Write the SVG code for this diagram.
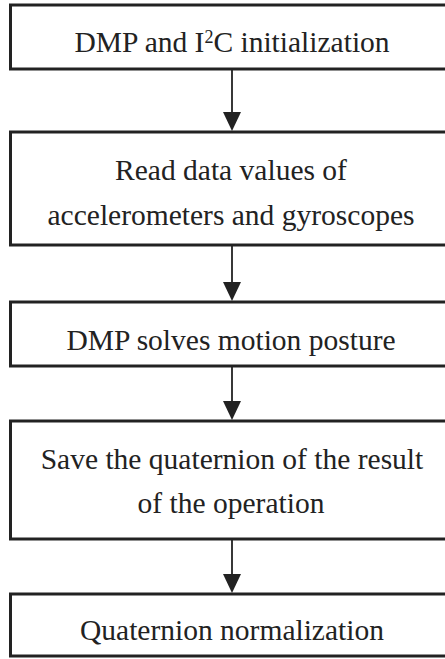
<svg xmlns="http://www.w3.org/2000/svg" width="445" height="659" viewBox="0 0 445 659">
<defs>
<style>
.box{fill:#fff;stroke:#222;stroke-width:3}
.lbl{font-family:"Liberation Serif","Times New Roman","DejaVu Serif",serif;font-size:29.5px;fill:#222;text-anchor:middle}
.conn line{stroke:#222;stroke-width:1.8}
.conn polygon{fill:#222}
</style>
</defs>
<rect width="445" height="659" fill="#fff"/>
<g font-family="'Liberation Serif', 'Times New Roman', serif">
<g id="n1"><rect class="box" x="10.5" y="5" width="460" height="64"/><text class="lbl" x="232" y="52">DMP and I<tspan font-size="18" baseline-shift="9">2</tspan>C initialization</text></g>
<g id="n2"><rect class="box" x="10.5" y="132" width="460" height="113"/><text class="lbl" x="231" y="180">Read data values of</text><text class="lbl" x="231" y="225">accelerometers and gyroscopes</text></g>
<g id="n3"><rect class="box" x="10.5" y="302" width="460" height="64"/><text class="lbl" x="231" y="350">DMP solves motion posture</text></g>
<g id="n4"><rect class="box" x="10.5" y="421" width="460" height="118"/><text class="lbl" x="232" y="469">Save the quaternion of the result</text><text class="lbl" x="231" y="513">of the operation</text></g>
<g id="n5"><rect class="box" x="10.5" y="594" width="460" height="62"/><text class="lbl" x="232" y="640">Quaternion normalization</text></g>
</g>
<g class="conn" id="connectors">
<line x1="232" y1="70" x2="232" y2="114"/><polygon points="223,112 241,112 232,131"/>
<line x1="232" y1="246" x2="232" y2="284"/><polygon points="223,282 241,282 232,301"/>
<line x1="232" y1="367" x2="232" y2="403"/><polygon points="223,401 241,401 232,420"/>
<line x1="232" y1="540" x2="232" y2="576"/><polygon points="223,574 241,574 232,593"/>
</g>
</svg>
